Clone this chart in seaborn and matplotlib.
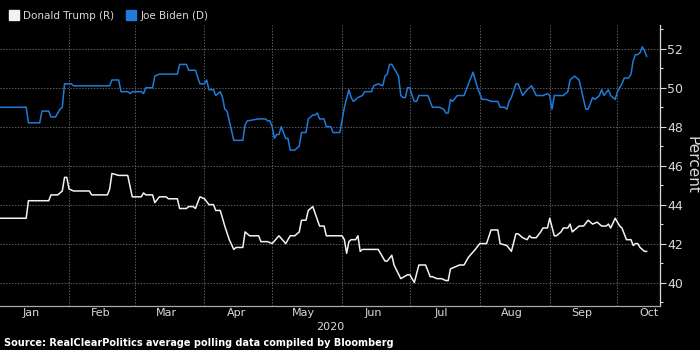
import numpy as np
import pandas as pd
import matplotlib
matplotlib.use("Agg")
import matplotlib.pyplot as plt
import matplotlib.dates as mdates
from matplotlib.ticker import MultipleLocator
from matplotlib.lines import Line2D
import seaborn as sns

# ---- data (day offsets from 2020-01-01, percent) ----
biden_days = [0, 12, 13, 18, 19, 22, 23, 25, 27, 28, 29, 32, 33, 49, 50, 53, 54, 57, 58, 59,
              63, 64, 65, 68, 69, 71, 79, 80, 83, 84, 87, 89, 91, 92, 93, 95, 96, 98, 99, 100,
              101, 104, 108, 109, 110, 115, 118, 119, 120, 121, 122, 123, 124, 125, 127, 128,
              129, 131, 133, 134, 136, 137, 139, 140, 141, 142, 144, 145, 147, 148, 151, 153,
              155, 156, 157, 159, 161, 162, 165, 166, 168, 170, 171, 172, 173, 174, 175, 177,
              178, 179, 180, 181, 182, 183, 184, 185, 186, 190, 192, 195, 197, 198, 199, 200,
              201, 203, 206, 208, 210, 212, 214, 216, 218, 221, 222, 224, 225, 226, 227, 229,
              230, 231, 232, 234, 236, 238, 241, 243, 244, 245, 246, 250, 252, 253, 255, 257,
              258, 260, 261, 263, 264, 266, 267, 268, 270, 271, 273, 274, 276, 277, 279, 280,
              281, 282, 283, 284, 285, 286, 287]
biden_vals = [49.0, 49.0, 48.2, 48.2, 48.8, 48.8, 48.5, 48.5, 48.9, 49.0, 50.2, 50.2, 50.1, 50.1,
              50.4, 50.4, 49.8, 49.8, 49.7, 49.8, 49.8, 49.7, 50.0, 50.0, 50.6, 50.7, 50.7, 51.2,
              51.2, 50.9, 50.9, 50.2, 50.2, 50.4, 49.9, 49.9, 49.6, 49.8, 49.5, 48.9, 48.8, 47.3,
              47.3, 48.1, 48.3, 48.4, 48.4, 48.3, 48.3, 48.0, 47.4, 47.6, 47.6, 48.0, 47.4, 47.4,
              46.8, 46.8, 47.0, 47.7, 47.7, 48.4, 48.6, 48.6, 48.7, 48.4, 48.4, 48.0, 48.0, 47.7,
              47.7, 49.0, 49.9, 49.5, 49.3, 49.5, 49.6, 49.8, 49.8, 50.1, 50.2, 50.1, 50.6, 50.7,
              51.2, 51.2, 51.0, 50.6, 49.6, 49.5, 49.5, 50.0, 50.0, 49.6, 49.3, 49.3, 49.6, 49.6,
              49.0, 49.0, 48.9, 48.7, 48.7, 49.4, 49.3, 49.6, 49.6, 50.2, 50.8, 50.0, 49.4, 49.4,
              49.3, 49.3, 49.0, 49.0, 48.9, 49.3, 49.5, 50.2, 50.2, 49.9, 49.6, 49.9, 50.1, 49.6,
              49.6, 49.7, 49.6, 48.9, 49.6, 49.6, 49.8, 50.4, 50.6, 50.4, 49.9, 48.9, 48.9, 49.5,
              49.4, 49.6, 49.9, 49.6, 49.9, 49.6, 49.4, 49.8, 50.2, 50.5, 50.5, 50.7, 51.4, 51.7,
              51.7, 51.8, 52.1, 51.9, 51.6]

trump_days = [0, 12, 13, 22, 23, 26, 28, 29, 30, 31, 33, 40, 41, 48, 49, 50, 53, 57, 59, 63,
              64, 65, 68, 69, 71, 74, 75, 79, 80, 83, 84, 86, 87, 89, 91, 93, 95, 96, 98, 100,
              102, 104, 105, 108, 109, 111, 115, 116, 119, 121, 124, 127, 129, 131, 133, 134,
              136, 137, 139, 142, 144, 145, 152, 153, 154, 155, 156, 158, 159, 160, 161, 168,
              171, 172, 174, 175, 178, 181, 182, 184, 186, 189, 191, 192, 194, 196, 198, 199,
              200, 202, 204, 206, 208, 211, 213, 216, 218, 221, 222, 225, 227, 229, 230, 232,
              234, 235, 236, 238, 240, 241, 243, 244, 246, 247, 249, 250, 252, 253, 254, 257,
              259, 261, 263, 265, 267, 269, 270, 271, 273, 275, 276, 278, 280, 281, 282, 283,
              284, 286, 287]
trump_vals = [43.3, 43.3, 44.2, 44.2, 44.5, 44.5, 44.7, 45.4, 45.4, 44.8, 44.7, 44.7, 44.5, 44.5,
              44.8, 45.6, 45.5, 45.5, 44.4, 44.4, 44.6, 44.5, 44.5, 44.1, 44.4, 44.4, 44.3, 44.3,
              43.8, 43.8, 43.9, 43.9, 43.8, 44.4, 44.3, 44.0, 44.0, 43.7, 43.7, 42.9, 42.2, 41.7,
              41.8, 41.8, 42.6, 42.4, 42.4, 42.1, 42.1, 42.0, 42.4, 42.0, 42.4, 42.4, 42.6, 43.2,
              43.2, 43.7, 43.9, 42.9, 42.9, 42.4, 42.4, 42.2, 41.5, 42.1, 42.2, 42.2, 42.4, 41.6,
              41.7, 41.7, 41.1, 41.1, 41.4, 40.9, 40.2, 40.4, 40.4, 40.0, 40.9, 40.9, 40.3, 40.3,
              40.2, 40.2, 40.1, 40.1, 40.7, 40.8, 40.9, 40.9, 41.3, 41.7, 42.0, 42.0, 42.7, 42.7,
              42.0, 41.9, 41.6, 42.5, 42.5, 42.3, 42.2, 42.4, 42.3, 42.3, 42.6, 42.8, 42.8, 43.3,
              42.4, 42.4, 42.6, 42.8, 42.8, 43.0, 42.6, 42.9, 42.9, 43.2, 43.0, 43.1, 42.9, 42.9,
              43.0, 42.8, 43.3, 42.9, 42.8, 42.2, 42.2, 41.9, 42.0, 42.0, 41.8, 41.6, 41.6]

series_names = ["Donald Trump (R)", "Joe Biden (D)"]
y_ticks = [40, 42, 44, 46, 48, 50, 52]
x_label = "2020"
y_label = "Percent"
source = "Source: RealClearPolitics average polling data compiled by Bloomberg"

# ---- build frame ----
start = pd.Timestamp("2020-01-01")
df = pd.concat([
    pd.DataFrame({"date": start + pd.to_timedelta(trump_days, unit="D"),
                  "value": trump_vals, "series": series_names[0]}),
    pd.DataFrame({"date": start + pd.to_timedelta(biden_days, unit="D"),
                  "value": biden_vals, "series": series_names[1]}),
])

BLUE = "#1f7ad9"
WHITE = "#f2f2f2"
TXT = "#d9d9d9"
palette = {series_names[0]: WHITE, series_names[1]: BLUE}

sns.set_theme(style="dark")
plt.rcParams["font.family"] = ["DejaVu Sans"]

fig = plt.figure(figsize=(7, 3.5), dpi=100, facecolor="black")
ax = fig.add_axes([0.0, 0.126, 0.943, 0.803])
ax.set_facecolor("black")

sns.lineplot(data=df, x="date", y="value", hue="series", palette=palette,
             linewidth=1.1, legend=False, ax=ax, estimator=None, sort=False)

ax.set_xlim(start + pd.Timedelta(days=0.4), start + pd.Timedelta(days=292.9))
ax.set_ylim(38.8, 53.23)

# x axis
ax.xaxis.set_major_locator(mdates.MonthLocator())
ax.xaxis.set_major_formatter(plt.NullFormatter())
ax.xaxis.set_minor_locator(mdates.MonthLocator(bymonthday=15))
ax.xaxis.set_minor_formatter(mdates.DateFormatter("%b"))
ax.tick_params(axis="x", which="major", length=3, direction="inout", color="#aaaaaa")
ax.tick_params(axis="x", which="minor", length=0, labelsize=8, labelcolor=TXT, pad=1.5)
ax.set_xlabel(x_label, color=TXT, fontsize=8, labelpad=3)

# y axis on right
ax.yaxis.tick_right()
ax.yaxis.set_label_position("right")
ax.set_yticks(y_ticks)
ax.yaxis.set_minor_locator(MultipleLocator(1))
ax.tick_params(axis="y", which="major", length=4, width=0.8, color=TXT,
               labelsize=9, labelcolor=TXT, pad=1)
ax.tick_params(axis="y", which="minor", length=2.5, width=0.8, color=TXT)
ax.set_ylabel(y_label, color=TXT, fontsize=11, rotation=270, labelpad=12)

ax.grid(True, which="major", color="#5a5a5a", linestyle=(0, (1.5, 1.5)), linewidth=0.7)
for s in ["top", "left"]:
    ax.spines[s].set_visible(False)
ax.spines["right"].set_color(TXT)
ax.spines["bottom"].set_color("#aaaaaa")
ax.spines["right"].set_linewidth(0.9)
ax.spines["bottom"].set_linewidth(0.9)

# legend
handles = [Line2D([], [], marker="s", linestyle="none", markersize=6.5,
                  markerfacecolor=palette[n], markeredgecolor=palette[n]) for n in series_names]
fig.legend(handles, series_names, loc="upper left", bbox_to_anchor=(-0.003, 0.995), ncol=2,
           frameon=False, handletextpad=0.2, columnspacing=1.0, handlelength=1.3,
           labelcolor=TXT, prop={"family": ["DejaVu Sans"], "size": 7.5})

fig.text(0.006, 0.02, source, color="white", fontsize=7, fontweight="bold",
         family=["DejaVu Sans"], ha="left", va="center")

fig.savefig("out.png", dpi=100, facecolor="black")
